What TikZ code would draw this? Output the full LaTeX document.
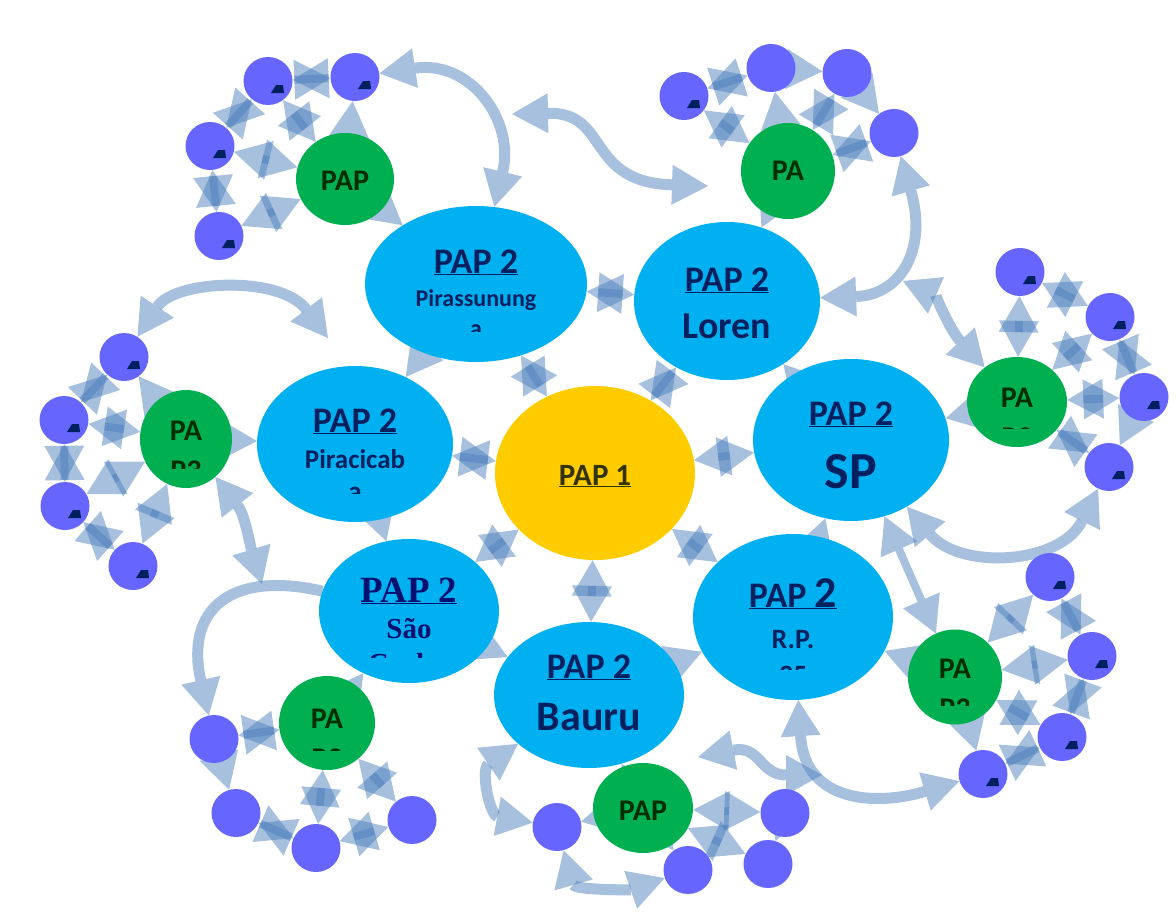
\documentclass[tikz,border=0pt]{standalone}
\usepackage{fontspec}
\setmainfont{Carlito}
\newfontfamily\papserif{Liberation Serif}
\usetikzlibrary{arrows.meta,shapes.geometric,backgrounds}

\definecolor{hubyellow}{RGB}{255,204,0}
\definecolor{cityblue}{RGB}{0,176,240}
\definecolor{papgreen}{RGB}{0,176,80}
\definecolor{leafblue}{RGB}{102,102,255}
\definecolor{linkblue}{RGB}{79,129,189}
\definecolor{navyink}{RGB}{0,32,96}
\definecolor{serifink}{RGB}{0,16,112}
\definecolor{greenink}{RGB}{0,45,0}
\definecolor{oliveink}{RGB}{51,51,0}

\tikzset{
  hub/.style={ellipse, fill=hubyellow, inner sep=0pt},
  city/.style={ellipse, fill=cityblue, inner sep=0pt},
  pap/.style={ellipse, fill=papgreen, inner sep=0pt},
  leaf/.style={ellipse, fill=leafblue, inner sep=0pt, minimum width=49pt, minimum height=48pt},
  leafm/.style={leaf, path picture={
      \fill[navyink] (path picture bounding box.center) ++(8,4) -- ++(7,0) -- ++(1,8) -- ++(-13,0) -- cycle;}},
  lbl/.style={anchor=base, inner sep=0pt},
  title/.style={lbl, text=navyink, font=\bfseries\fontsize{36}{36}\selectfont},
  cname/.style={lbl, text=navyink, font=\bfseries\fontsize{#1}{#1}\selectfont},
  ptext/.style={lbl, text=greenink, font=\bfseries\fontsize{30}{30}\selectfont},
  link/.style={draw=linkblue, line width=8pt, opacity=0.5, <->},
  curl/.style={draw=linkblue, line width=11pt, opacity=0.5},
}

\begin{document}
\begin{tikzpicture}[x=1pt, y=-1pt, >={Triangle[length=36pt,width=40pt,line width=0pt]}]
\useasboundingbox (0,0) rectangle (1176,918);

% PAP 1 and the PAP 2 ring
\node[hub, minimum width=200pt, minimum height=174pt] (pap1) at (595,473) {};
\node[city, minimum width=222pt, minimum height=156pt] (pira) at (476,284) {};
\node[city, minimum width=186pt, minimum height=158pt] (lore) at (727,301) {};
\node[city, minimum width=196pt, minimum height=162pt] (sp) at (851,440) {};
\node[city, minimum width=196pt, minimum height=156pt] (prcb) at (355,444) {};
\node[city, minimum width=180pt, minimum height=144pt] (scar) at (409,611) {};
\node[city, minimum width=190pt, minimum height=146pt] (baur) at (589,695) {};
\node[city, minimum width=200pt, minimum height=166pt] (rp) at (793,617) {};

% PAP 3
\node[pap, minimum width=98pt, minimum height=92pt] (g1) at (345,179) {};
\node[pap, minimum width=94pt, minimum height=96pt] (g2) at (788,171) {};
\node[pap, minimum width=100pt, minimum height=90pt] (g3) at (1017,402) {};
\node[pap, minimum width=92pt, minimum height=98pt] (g4) at (186,439) {};
\node[pap, minimum width=94pt, minimum height=95pt] (g5) at (955,677) {};
\node[pap, minimum width=96pt, minimum height=94pt] (g6) at (327,723) {};
\node[pap, minimum width=100pt, minimum height=90pt] (g7) at (643,808) {};

% PAP 4
\foreach \n/\x/\y/\s in {l1a/268/81/leafm, l1b/355/77/leafm, l1c/210/146/leafm, l1d/219/236/leafm,
    l2a/684/96/leafm, l2b/771/68/leaf, l2c/847/73/leaf, l2d/894/133/leaf,
    l3a/1020/272/leafm, l3b/1110/317/leafm, l3c/1144/397/leafm, l3d/1109/467/leafm,
    l4a/124/357/leafm, l4b/64/420/leafm, l4c/65/506/leafm, l4d/133/566/leafm,
    l5a/1050/577/leafm, l5b/1092/656/leafm, l5c/1062/737/leafm, l5d/983/774/leafm,
    l6a/214/739/leaf, l6b/236/813/leaf, l6c/316/848/leaf, l6d/412/820/leaf,
    l7a/557/827/leaf, l7b/688/870/leaf, l7c/785/813/leaf, l7d/768/864/leaf}
  \node[\s] (\n) at (\x,\y) {};

% labels
\node[lbl, text=oliveink, font=\bfseries\fontsize{31}{31}\selectfont] (pap1-t) at (595,485) {\underline{PAP 1}};
\node[title] (pira-t) at (476,273) {\underline{PAP 2}};
\node[cname=24] (pira-n) at (476,306) {Pirassunung};
\node[title] (lore-t) at (727,291) {\underline{PAP 2}};
\node[cname=38] (lore-n) at (727,338) {Loren};
\node[title] (sp-t) at (851,425) {\underline{PAP 2}};
\node[cname=52] (sp-n) at (851,488) {SP};
\node[title] (prcb-t) at (355,432) {\underline{PAP 2}};
\node[cname=27] (prcb-n) at (355,468) {Piracicab};
\node[lbl, text=serifink, font=\papserif\bfseries\fontsize{37}{37}\selectfont] (scar-t) at (409,602) {\underline{PAP 2}};
\node[lbl, text=serifink, font=\papserif\bfseries\fontsize{29}{29}\selectfont] (scar-n) at (409,638) {São};
\node[title] (baur-t) at (589,678) {\underline{PAP 2}};
\node[cname=42] (baur-n) at (589,730) {Bauru};
\node[title] (rp-t) at (793,607) {\underline{PAP {\fontsize{44}{44}\selectfont 2}}};
\node[cname=28] (rp-n) at (793,648) {R.P.};
\node[ptext] (g1-t) at (345,190) {PAP};
\node[ptext] (g2-t) at (788,180) {PA};
\node[ptext] (g3-t) at (1017,407) {PA};
\node[ptext] (g4-t) at (186,440) {PA};
\node[ptext] (g5-t) at (955,678) {PA};
\node[ptext] (g6-t) at (327,728) {PA};
\node[ptext] (g7-t) at (643,820) {PAP};

% second lines cut off by the shapes
\begin{scope}
  \clip (400,300) rectangle (550,331);
  \node[cname=24] (pira-m) at (476,336) {a};
\end{scope}
\begin{scope}
  \clip (300,470) rectangle (410,493);
  \node[cname=27] (prcb-m) at (355,500) {a};
\end{scope}
\begin{scope}
  \clip (340,640) rectangle (480,657);
  \node[lbl, text=serifink, font=\papserif\bfseries\fontsize{29}{29}\selectfont] (scar-m) at (409,673) {Carlos};
\end{scope}
\begin{scope}
  \clip (740,650) rectangle (850,669);
  \node[cname=28] (rp-m) at (793,684) {35};
\end{scope}
\begin{scope}
  \clip (980,410) rectangle (1060,428);
  \node[ptext] (g3-m) at (1017,447) {P3};
\end{scope}
\begin{scope}
  \clip (150,445) rectangle (230,468);
  \node[ptext] (g4-m) at (186,480) {P3};
\end{scope}
\begin{scope}
  \clip (915,685) rectangle (995,705);
  \node[ptext] (g5-m) at (955,718) {P3};
\end{scope}
\begin{scope}
  \clip (290,735) rectangle (370,750);
  \node[ptext] (g6-m) at (327,768) {P3};
\end{scope}

% connectors
\begin{scope}[on background layer]
\foreach \a/\b in {pap1/pira, pap1/lore, pap1/sp, pap1/prcb, pap1/scar, pap1/baur, pap1/rp,
    pira/lore, pira/prcb, prcb/scar, scar/baur, baur/rp, rp/sp, sp/lore,
    g1/pira, g2/lore, g3/sp, g4/prcb, g5/rp, g5/sp, g6/scar, g7/baur,
    g1/l1a, g1/l1b, g1/l1c, g1/l1d, l1a/l1b, l1a/l1c, l1c/l1d,
    g2/l2a, g2/l2b, g2/l2c, g2/l2d, l2a/l2b, l2b/l2c, l2c/l2d,
    g3/l3a, g3/l3b, g3/l3c, g3/l3d, l3a/l3b, l3b/l3c, l3c/l3d,
    g4/l4a, g4/l4b, g4/l4c, g4/l4d, l4a/l4b, l4b/l4c, l4c/l4d,
    g5/l5a, g5/l5b, g5/l5c, g5/l5d, l5a/l5b, l5b/l5c, l5c/l5d,
    g6/l6a, g6/l6c, g6/l6d, l6a/l6b, l6b/l6c, l6c/l6d,
    g7/l7a, g7/l7b, g7/l7c, g7/l7d, l7c/l7d}
  \draw[link] (\a) -- (\b);

\coordinate (c2s) at (512,114);
\coordinate (c2e) at (708,186);
\coordinate (c4e) at (328,338);
\coordinate (c9s) at (698,757);
\coordinate (c9e) at (822,775);
\coordinate (c10e) at (262,584);
\coordinate (c12e) at (903,281);

\draw[curl, <->] (l1b) .. controls (470,60) and (515,120) .. (pira);
\draw[curl, <->] (c2s) .. controls (610,112) and (585,182) .. (c2e);
\draw[curl, <->] (lore) .. controls (900,295) and (928,250) .. (l2d);
\draw[curl, <->] (l4a) .. controls (175,280) and (280,275) .. (c4e);
\draw[curl, <->] (sp) .. controls (960,570) and (1060,565) .. (l3d);
\draw[curl, ->] (scar) .. controls (230,570) and (185,610) .. (l6a);
\draw[curl, <->] (rp) .. controls (805,805) and (880,805) .. (l5d);
\draw[curl, <->] (baur) .. controls (480,770) and (490,815) .. (l7a);
\draw[curl, <->] (l7a) .. controls (575,890) and (630,890) .. (l7b);
\draw[curl, <->] (c9s) .. controls (760,745) and (760,775) .. (c9e);
\draw[curl, <->] (g4) .. controls (245,515) and (250,545) .. (c10e);
\draw[curl, <->] (g3) .. controls (950,330) and (935,295) .. (c12e);
\end{scope}
\end{tikzpicture}
\end{document}
